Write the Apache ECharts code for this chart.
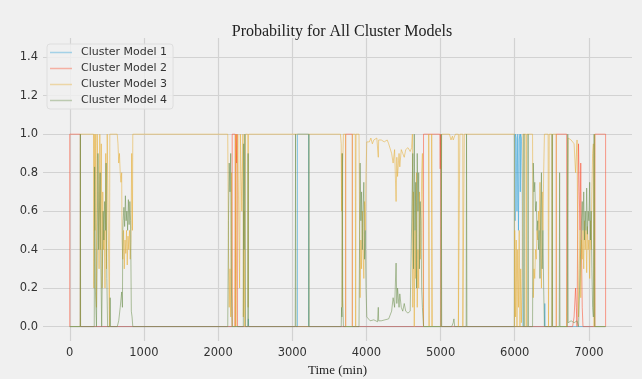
<!DOCTYPE html>
<html>
<head>
<meta charset="utf-8">
<script src="https://cdn.jsdelivr.net/npm/echarts@6/dist/echarts.min.js"></script>
<style>
  html, body { margin: 0; padding: 0; background: #f0f0f0; }
  #chart { width: 642px; height: 379px; }
</style>
</head>
<body>
<div id="chart"></div>
<script>
const seriesNames = ['Cluster Model 1', 'Cluster Model 2', 'Cluster Model 3', 'Cluster Model 4'];
const xTicks = [0, 1000, 2000, 3000, 4000, 5000, 6000, 7000];
const yTicks = [0.0, 0.2, 0.4, 0.6, 0.8, 1.0, 1.2, 1.4];

// [time (min), probability]
const model1 = [
  [0, 0], [2405, 0], [2408, 0.04], [2412, 0], [3070, 0], [3070, 1], [3220, 1], [3220, 0],
  [5995, 0], [5995, 1], [6005, 0.55], [6010, 1], [6020, 0.98], [6030, 0.6], [6040, 1],
  [6050, 0.5], [6060, 0.97], [6070, 1], [6075, 0.7], [6080, 1], [6090, 0.98], [6100, 0.75],
  [6110, 0], [6400, 0], [6405, 0.12], [6410, 0], [7225, 0]
];
const model2 = [
  [0, 0], [0, 1], [143, 1], [143, 0], [2190, 0], [2190, 1], [2230, 1], [2230, 0],
  [2240, 0], [2240, 1], [2250, 0.85], [2255, 1], [2262, 0], [3720, 0], [3720, 1],
  [3810, 1], [3810, 0], [4770, 0], [4770, 1], [4990, 1], [4995, 0.82], [5000, 1],
  [5005, 0], [6560, 0], [6560, 1], [6700, 1], [6700, 0], [6780, 0], [6800, 0.05],
  [6820, 0.2], [6830, 0.1], [6840, 0], [6850, 0.6], [6860, 0.95], [6870, 0.7],
  [6880, 0.5], [6890, 0.85], [6900, 0.4], [6910, 0.1], [6920, 0], [7080, 0],
  [7080, 1], [7225, 1], [7225, 0]
];
const model3 = [
  [0, 0], [143, 0], [143, 1], [320, 1], [325, 0.2], [330, 1], [340, 0.5], [350, 1],
  [360, 0.1], [370, 1], [385, 0.7], [395, 0.3], [405, 1], [415, 0.4], [425, 0.95],
  [435, 0.2], [445, 0.7], [455, 0.4], [465, 0.5], [475, 0.2], [485, 0.9], [495, 0.3],
  [505, 1], [530, 1], [535, 0], [540, 1], [640, 1], [650, 0.95], [660, 0.85],
  [670, 0.9], [680, 0.8], [690, 0.75], [700, 0.8], [705, 0.45], [715, 0.35],
  [725, 0.5], [735, 0.3], [745, 0.45], [755, 0.38], [765, 0.5], [775, 0.32],
  [785, 0.47], [795, 0.4], [805, 0.5], [815, 0.35], [825, 0.45], [835, 0.9],
  [845, 0.5], [850, 1], [1180, 1], [1183, 0.99], [1186, 1], [2130, 1], [2140, 0.4],
  [2150, 0.1], [2160, 0.3], [2170, 0.05], [2180, 0.8], [2190, 0], [2230, 0],
  [2235, 1], [2240, 0], [2262, 0], [2265, 1], [2280, 1], [2290, 0.2], [2300, 1],
  [2320, 0.6], [2335, 1], [2340, 0.05], [2350, 0.6], [2360, 0], [2370, 1], [2400, 1],
  [2405, 0.1], [2410, 1], [3650, 1], [3660, 0.95], [3665, 0.6], [3670, 0.9],
  [3675, 0.1], [3680, 0.85], [3690, 1], [3720, 1], [3720, 0], [3810, 0], [3810, 1],
  [3850, 1], [3855, 0], [3860, 1], [3900, 1], [3905, 0.7], [3915, 0.15], [3925, 0.45],
  [3935, 0.3], [3945, 0.6], [3955, 0.4], [3965, 0.25], [3975, 0.65], [3985, 0.5],
  [3995, 0.8], [4005, 0.96], [4020, 0.97], [4040, 0.96], [4060, 0.98], [4080, 0.95],
  [4100, 0.97], [4120, 0.96], [4140, 0.98], [4160, 0.88], [4165, 0.97], [4200, 0.97],
  [4240, 0.96], [4280, 0.97], [4300, 0.95], [4320, 0.94], [4340, 0.9], [4360, 0.85],
  [4380, 0.92], [4400, 0.65], [4410, 0.88], [4420, 0.78], [4440, 0.9], [4450, 0.83],
  [4470, 0.92], [4490, 0.9], [4510, 0.88], [4530, 0.92], [4560, 0.93], [4590, 0.91],
  [4610, 0.93], [4620, 1], [4625, 0.1], [4635, 0.7], [4645, 0], [4655, 0.5],
  [4665, 0.25], [4675, 0.8], [4685, 0.1], [4695, 0.4], [4705, 0.2], [4715, 0.7],
  [4725, 0.35], [4735, 0.45], [4745, 0.8], [4755, 0.9], [4770, 0], [4840, 0],
  [4840, 1], [4850, 1], [4850, 0], [4880, 0], [4880, 1], [4890, 1], [4890, 0],
  [5005, 0], [5015, 1], [5120, 1], [5140, 0.97], [5160, 0.99], [5170, 0.97],
  [5200, 1], [5240, 1], [5240, 0], [5260, 0], [5260, 1], [5300, 1], [5300, 0],
  [5320, 1], [5995, 1], [5995, 0], [6000, 0.5], [6010, 0.05], [6020, 0.45], [6030, 0],
  [6040, 0.4], [6050, 0.1], [6060, 0.5], [6070, 0], [6080, 0.3], [6090, 0.02],
  [6100, 0.25], [6110, 1], [6150, 1], [6155, 0], [6160, 1], [6240, 1], [6250, 0.15],
  [6260, 0.3], [6270, 0.25], [6280, 0.4], [6290, 0.35], [6300, 0.5], [6310, 0.45],
  [6320, 0.6], [6330, 0.5], [6340, 0.75], [6350, 0.4], [6360, 0.2], [6370, 0.7],
  [6380, 0.5], [6390, 0.8], [6400, 1], [6450, 1], [6455, 0], [6465, 1], [6500, 1],
  [6505, 0], [6510, 1], [6560, 1], [6560, 0], [6700, 0], [6715, 0], [6720, 0.98],
  [6760, 0.97], [6800, 0.95], [6820, 0.8], [6840, 0.97], [6850, 0.4], [6860, 0.05],
  [6870, 0.3], [6880, 0.5], [6890, 0.15], [6900, 0.45], [6910, 0.35], [6920, 0.5],
  [6930, 0.3], [6940, 0.55], [6950, 0.4], [6960, 0.5], [6970, 0.28], [6980, 0.52],
  [6990, 0.4], [7000, 0.45], [7010, 0.25], [7020, 0.55], [7030, 0.4], [7040, 0.7],
  [7050, 0.9], [7060, 0.95], [7070, 0], [7078, 1], [7080, 0], [7225, 0]
];
const model4 = [
  [0, 0], [140, 0], [143, 1], [146, 0], [330, 0], [335, 0.83], [345, 0.2], [360, 0],
  [380, 0.9], [390, 0.4], [410, 0.8], [420, 0.3], [430, 0], [450, 0.6], [460, 0.45],
  [470, 0.65], [480, 0.5], [490, 0.85], [500, 0.25], [510, 0], [540, 0], [545, 0.15],
  [550, 0], [640, 0], [660, 0.03], [680, 0.1], [700, 0.18], [710, 0.1], [715, 0.5],
  [720, 0.55], [730, 0.62], [740, 0.52], [750, 0.68], [760, 0.55], [770, 0.6],
  [780, 0.5], [790, 0.66], [800, 0.53], [810, 0.65], [820, 0.55], [830, 0.08],
  [840, 0.05], [850, 0], [1175, 0], [1180, 0.005], [1185, 0], [2130, 0], [2140, 0.55],
  [2150, 0.85], [2160, 0.7], [2170, 0.9], [2180, 0.2], [2190, 0], [2340, 0],
  [2345, 0.95], [2350, 0.4], [2360, 1], [2370, 0], [2400, 0], [2405, 0.9], [2410, 0],
  [3040, 0], [3045, 1], [3050, 0], [3222, 0], [3225, 1], [3228, 0], [3660, 0],
  [3665, 0.1], [3670, 0.05], [3675, 0.9], [3680, 0.15], [3690, 0], [3900, 0],
  [3905, 0.3], [3915, 0.85], [3925, 0.55], [3935, 0.7], [3945, 0.4], [3955, 0.6],
  [3965, 0.75], [3975, 0.35], [3985, 0.5], [3995, 0.2], [4005, 0.05], [4010, 0.04],
  [4050, 0.03], [4100, 0.035], [4150, 0.025], [4160, 0.1], [4165, 0.03], [4200, 0.03],
  [4250, 0.035], [4300, 0.04], [4320, 0.05], [4340, 0.08], [4360, 0.15], [4380, 0.1],
  [4400, 0.33], [4410, 0.12], [4420, 0.2], [4440, 0.1], [4450, 0.17], [4470, 0.1],
  [4490, 0.08], [4510, 0.12], [4530, 0.08], [4560, 0.07], [4590, 0.08], [4610, 0.07],
  [4625, 0.9], [4635, 0.3], [4645, 1], [4655, 0.5], [4665, 0.75], [4675, 0.2],
  [4685, 0.9], [4695, 0.6], [4705, 0.8], [4715, 0.3], [4725, 0.65], [4735, 0.55],
  [4745, 0.2], [4755, 0.1], [4770, 0], [5005, 0], [5010, 1], [5015, 0], [5150, 0],
  [5170, 0.02], [5180, 0.04], [5190, 0], [5345, 0], [5350, 1], [5355, 0], [6120, 0],
  [6125, 1], [6130, 0], [6175, 0], [6180, 1], [6185, 0], [6240, 0], [6250, 0.85],
  [6260, 0.7], [6270, 0.75], [6280, 0.6], [6290, 0.65], [6300, 0.5], [6310, 0.55],
  [6320, 0.4], [6330, 0.5], [6340, 0.25], [6350, 0.6], [6360, 0.8], [6370, 0.3],
  [6380, 0.5], [6390, 0.2], [6400, 0], [6500, 0], [6505, 1], [6510, 0], [6600, 0],
  [6605, 0.8], [6610, 0], [6710, 0], [6715, 1], [6720, 0.02], [6760, 0.03],
  [6800, 0.02], [6840, 0.03], [6860, 0], [6880, 0], [6900, 0.55], [6910, 0.65],
  [6920, 0.5], [6930, 0.7], [6940, 0.45], [6950, 0.6], [6960, 0.5], [6970, 0.72],
  [6980, 0.48], [6990, 0.6], [7000, 0.55], [7010, 0.75], [7020, 0.45], [7030, 0.6],
  [7040, 0.3], [7050, 0.1], [7060, 0.05], [7070, 1], [7078, 0], [7225, 0]
];

const colors = ['#30a2da', '#fc4f30', '#e5ae38', '#6d904f'];
const allData = [model1, model2, model3, model4];

const chart = echarts.init(document.getElementById('chart'));
chart.setOption({
  animation: false,
  backgroundColor: '#f0f0f0',
  color: colors,
  title: {
    text: 'Probability for All Cluster Models',
    left: 337, top: 19, textAlign: 'center',
    textStyle: { fontFamily: 'Liberation Serif', fontSize: 16, fontWeight: 'normal', color: '#222' }
  },
  legend: {
    orient: 'vertical', left: 47, top: 44,
    data: seriesNames,
    icon: 'rect',
    itemWidth: 22, itemHeight: 1.5, itemGap: 5,
    backgroundColor: 'rgba(240,240,240,0.85)',
    borderColor: '#dedede', borderWidth: 1, borderRadius: 3,
    padding: [3, 6, 3, 3],
    textStyle: { fontFamily: 'DejaVu Sans', fontSize: 11, color: '#333', padding: [0, 0, 0, 4] }
  },
  grid: { left: 43, right: 10, top: 38, bottom: 38, outerBoundsMode: 'none' },
  xAxis: {
    type: 'value', min: -361, max: 7581, splitNumber: 8,
    axisLine: { show: false }, axisTick: { show: false },
    axisLabel: {
      showMinLabel: false, showMaxLabel: false, margin: 6,
      fontFamily: 'DejaVu Sans', fontSize: 11.5, color: '#333',
      formatter: v => xTicks.includes(v) ? String(v) : ''
    },
    splitLine: { show: true, showMinLine: false, showMaxLine: false, lineStyle: { color: '#d2d2d2', width: 1.2 } },
    name: 'Time (min)', nameLocation: 'middle', nameGap: 20,
    nameTextStyle: { fontFamily: 'Liberation Serif', fontSize: 13, color: '#222' }
  },
  yAxis: {
    type: 'value', min: -0.075, max: 1.5, splitNumber: 8,
    axisLine: { show: false }, axisTick: { show: false },
    axisLabel: {
      showMinLabel: false, showMaxLabel: false, margin: 5,
      fontFamily: 'DejaVu Sans', fontSize: 11.5, color: '#333',
      formatter: v => yTicks.some(t => Math.abs(t - v) < 1e-6) ? v.toFixed(1) : ''
    },
    splitLine: { show: true, showMinLine: false, showMaxLine: false, lineStyle: { color: '#d2d2d2', width: 1.2 } }
  },
  series: allData.map((d, i) => ({
    name: seriesNames[i],
    type: 'line',
    data: d,
    symbol: 'none',
    lineStyle: { width: 1, color: colors[i], opacity: 0.55 },
    itemStyle: { color: colors[i], opacity: 0.4 },
    z: 2 + i
  }))
});
</script>
</body>
</html>
